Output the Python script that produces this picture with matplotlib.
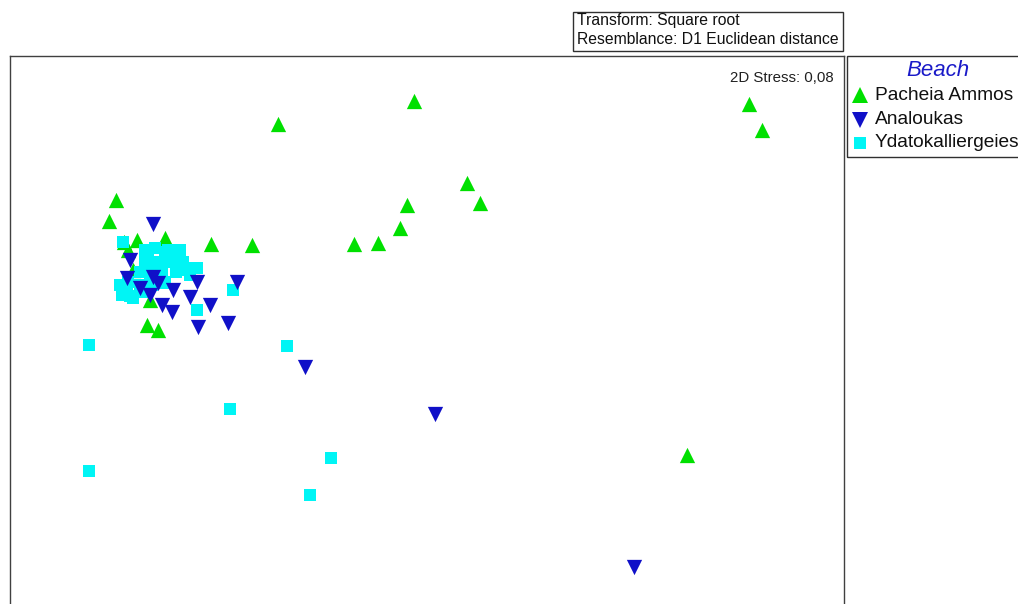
import matplotlib
matplotlib.use("Agg")
import matplotlib.pyplot as plt
from matplotlib.patches import Rectangle
from matplotlib.lines import Line2D

plt.rcParams["font.family"] = ["Liberation Sans", "DejaVu Sans"]

# nMDS ordination coordinates per beach
pacheia_x = [-0.052, 1.288, 1.340, -0.596, 0.160, 0.212, -0.080, -0.108, -0.196, -0.292,
             -0.700, -0.864, -1.244, -1.272, -1.212, -1.160, -1.048, -1.196, -1.176,
             -1.120, -1.076, 1.040, -1.108]
pacheia_y = [0.916, 0.904, 0.800, 0.824, 0.588, 0.508, 0.500, 0.408, 0.348, 0.344,
             0.340, 0.344, 0.520, 0.436, 0.352, 0.360, 0.368, 0.320, 0.240,
             0.020, 0.000, -0.500, 0.120]

analoukas_x = [-1.096, -1.188, -1.200, -1.096, -1.076, -1.016, -0.920, -0.760, -0.948,
               -1.108, -1.060, -1.020, -0.868, -0.916, -0.796, -0.488, 0.032, 0.828, -1.148]
analoukas_y = [0.424, 0.280, 0.208, 0.212, 0.188, 0.160, 0.192, 0.192, 0.132,
               0.140, 0.100, 0.072, 0.100, 0.012, 0.028, -0.148, -0.336, -0.948, 0.168]

ydato_x = [-1.352, -1.352, -0.788, -0.560, -0.384, -0.468, -0.776, -0.920, -1.216, -1.116,
           -1.108, -1.048, -0.988, -1.016, -0.948, -0.920, -1.068, -1.108, -1.148, -1.200,
           -1.188, -1.140, -1.048, -0.996,
           -1.128, -1.088, -1.036, -0.988, -1.128, -1.076, -1.028, -0.976, -0.928, -1.116,
           -1.060, -1.004, -0.948, -1.100, -1.048, -1.228, -1.220, -1.176, -1.148, -1.196]
ydato_y = [-0.060, -0.564, -0.316, -0.064, -0.512, -0.660, 0.160, 0.080, 0.352, 0.312,
           0.272, 0.312, 0.288, 0.292, 0.248, 0.248, 0.240, 0.200, 0.232, 0.160,
           0.136, 0.152, 0.192, 0.240,
           0.320, 0.328, 0.320, 0.320, 0.272, 0.272, 0.272, 0.272, 0.248, 0.232,
           0.232, 0.232, 0.220, 0.180, 0.188, 0.180, 0.140, 0.128, 0.180, 0.192]

groups = ["Pacheia Ammos", "Analoukas", "Ydatokalliergeies"]
legend_title = "Beach"
stress_label = "2D Stress: 0,08"
info_lines = ["Transform: Square root", "Resemblance: D1 Euclidean distance"]

GREEN, BLUE, CYAN = "#00e000", "#1010c8", "#00f5f5"
TRI, SQ = 11.0, 9.3

W, H = 1018, 604
fig = plt.figure(figsize=(W / 100, H / 100), dpi=100)
fig.patch.set_facecolor("white")


def fx(px):
    return px / W


def fy(py):
    return 1 - py / H


ax = fig.add_axes([fx(10), 0, (844 - 10) / W, (H - 56) / H])
ax.set_xlim(-1.668, 1.668)
ax.set_ylim(-1.096, 1.096)
ax.set_xticks([])
ax.set_yticks([])
for sp in ax.spines.values():
    sp.set_color("#404040")
    sp.set_linewidth(1.0)
ax.spines["bottom"].set_visible(False)

ax.scatter(pacheia_x, pacheia_y, marker="^", s=TRI ** 2, c=GREEN, linewidths=0, zorder=2)
ax.scatter(ydato_x, ydato_y, marker="s", s=SQ ** 2, c=CYAN, linewidths=0, zorder=3)
ax.scatter(analoukas_x, analoukas_y, marker="v", s=TRI ** 2, c=BLUE, linewidths=0, zorder=4)

ax.text(0.988, 0.972, stress_label, transform=ax.transAxes, ha="right", va="top",
        fontsize=10.8, color="#202020")

# transform / resemblance box above the plot
for py, line in zip([21, 40], info_lines):
    fig.text(fx(577), fy(py), line, ha="left", va="center", fontsize=11.3, color="#101010")
fig.add_artist(Rectangle((fx(573), fy(51)), (843 - 573) / W, 39 / H,
                         transform=fig.transFigure, fill=False,
                         edgecolor="#303030", linewidth=1.0))

# legend panel
fig.add_artist(Rectangle((fx(847), fy(157)), (1030 - 847) / W, (157 - 56) / H,
                         transform=fig.transFigure, fill=False,
                         edgecolor="#303030", linewidth=1.0))
fig.text(fx(938), fy(70), legend_title, ha="center", va="center", fontsize=16,
         fontstyle="italic", color="#1a1ac8")
legend_rows = [("^", GREEN, TRI, 95), ("v", BLUE, TRI, 120), ("s", CYAN, SQ * 0.9, 143)]
for (mk, col, ms, py), name in zip(legend_rows, groups):
    fig.add_artist(Line2D([fx(860)], [fy(py)], marker=mk, markersize=ms, color=col,
                          markeredgewidth=0, linestyle="none", transform=fig.transFigure))
    fig.text(fx(875), fy(py), name, ha="left", va="center", fontsize=13.8, color="#101010")

fig.savefig("out.png", dpi=100)
